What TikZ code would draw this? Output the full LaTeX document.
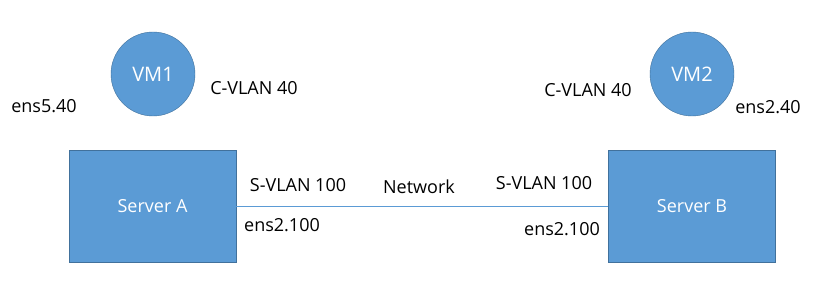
\documentclass[tikz,border=0pt]{standalone}
\usepackage{fontspec}
\setmainfont{Open Sans}
\usepackage{tikz}
\usetikzlibrary{calc}
\definecolor{officeblue}{HTML}{5B9BD5}
\definecolor{officeedge}{HTML}{41719C}
\tikzset{
    server/.style={draw=officeedge, fill=officeblue, minimum width=167pt, minimum height=112pt, text=white, font=\fontsize{18}{21}\selectfont, inner sep=0pt},
    vm/.style={circle, draw=officeedge, fill=officeblue, minimum size=84pt, text=white, font=\fontsize{20}{23}\selectfont, inner sep=0pt},
    lbl/.style={font=\fontsize{18}{21}\selectfont, inner sep=0pt},
    link/.style={draw=officeblue, line width=0.8pt}
}

\begin{document}
\begin{tikzpicture}[x=1pt, y=-1pt]
        \useasboundingbox (0,0) rectangle (829,286);
        % Hosts and guests
        \node[server] (SA) at (152.5, 206) {Server A};
        \node[server] (SB) at (692, 206) {Server B};
        \node[vm] (VM1) at (153, 74) {VM1};
        \node[vm] (VM2) at (692, 74) {VM2};

        \draw[link] (SA.east) -- (SB.west);

        % Interface and VLAN labels
        \node[lbl] (ifA) at (44, 106) {ens5.40};
        \node[lbl] (cvA) at (254, 88) {C-VLAN 40};
        \node[lbl] (cvB) at (588, 90) {C-VLAN 40};
        \node[lbl] (ifB) at (768, 107) {ens2.40};
        \node[lbl] (svA) at (298, 185) {S-VLAN 100};
        \node[lbl] (net) at (419, 187) {Network};
        \node[lbl] (svB) at (544, 183) {S-VLAN 100};
        \node[lbl] (trA) at (282, 225) {ens2.100};
        \node[lbl] (trB) at (562, 229) {ens2.100};
    \end{tikzpicture}
\end{document}
